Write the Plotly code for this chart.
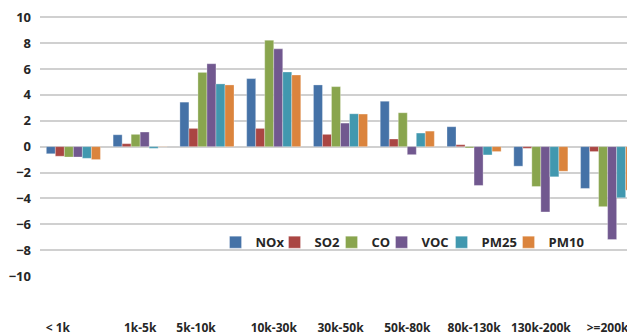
import plotly.graph_objects as go

categories = ["< 1k", "1k-5k", "5k-10k", "10k-30k", "30k-50k", "50k-80k", "80k-130k", "130k-200k", ">=200k"]
tick_labels = ["< 1k\u00a0\u00a0\u00a0\u00a0\u00a0\u00a0\u00a0\u00a0\u00a0\u00a0", "1k-5k", "5k-10k\u00a0\u00a0\u00a0\u00a0\u00a0\u00a0\u00a0", "10k-30k", "30k-50k", "50k-80k", "80k-130k", "130k-200k", ">=200k"]

NOx  = [-0.55, 0.92, 3.44, 5.26, 4.77, 3.51, 1.54, -1.51, -3.23]
SO2  = [-0.74, 0.23, 1.41, 1.41, 0.95, 0.59, 0.15, -0.13, -0.38]
CO   = [-0.80, 0.95, 5.74, 8.23, 4.64, 2.62, -0.10, -3.08, -4.64]
VOC  = [-0.80, 1.13, 6.41, 7.56, 1.82, -0.62, -3.00, -5.05, -7.18]
PM25 = [-0.90, -0.13, 4.85, 5.77, 2.54, 1.05, -0.64, -2.33, -3.95]
PM10 = [-1.00, -0.02, 4.77, 5.54, 2.52, 1.20, -0.38, -1.90, -3.38]

series = [("NOx", NOx, "#4572A7", 14), ("SO2", SO2, "#AA4643", 12), ("CO", CO, "#89A54E", 5),
          ("VOC", VOC, "#71588F", 15), ("PM25", PM25, "#4198AF", 22), ("PM10", PM10, "#DB843D", 36)]

y_ticks = [-10, -8, -6, -4, -2, 0, 2, 4, 6, 8, 10]

fig = go.Figure()
for name, vals, color, lw in series:
    fig.add_trace(go.Bar(x=categories, y=vals, name=name, legendwidth=lw,
                         marker=dict(color=color, line=dict(color="rgba(255,255,255,0.6)", width=0.5))))

fig.update_layout(
    width=627, height=328,
    margin=dict(l=32, r=0, t=8, b=60, autoexpand=False),
    paper_bgcolor="white", plot_bgcolor="white",
    barmode="group", bargap=0.19, bargroupgap=0,
    font=dict(family="Open Sans", size=12, color="#262626"),
    legend=dict(orientation="h", x=0.295, y=0.13, xanchor="left", yanchor="middle",
                font=dict(size=13, color="#262626", weight="bold"),
                bgcolor="rgba(0,0,0,0)", itemwidth=30, traceorder="normal"),
    xaxis=dict(type="category", range=[-0.5, 8.41], showgrid=False, zeroline=False,
               showline=False, ticks="", tickvals=categories, ticktext=tick_labels,
               automargin=False, ticklabelstandoff=43,
               tickfont=dict(size=12, weight="bold", color="#262626")),
    yaxis=dict(range=[-10, 10.1], tickvals=y_ticks, showgrid=True, gridcolor="#D0D0D0",
               gridwidth=1.5, zeroline=True, zerolinecolor="#D0D0D0", zerolinewidth=1.5,
               showline=False, ticks="", ticklabelstandoff=8, automargin=False,
               ticklabeloverflow="allow",
               tickfont=dict(size=13, weight="bold", color="#262626")),
)

fig.write_html("out.html")
